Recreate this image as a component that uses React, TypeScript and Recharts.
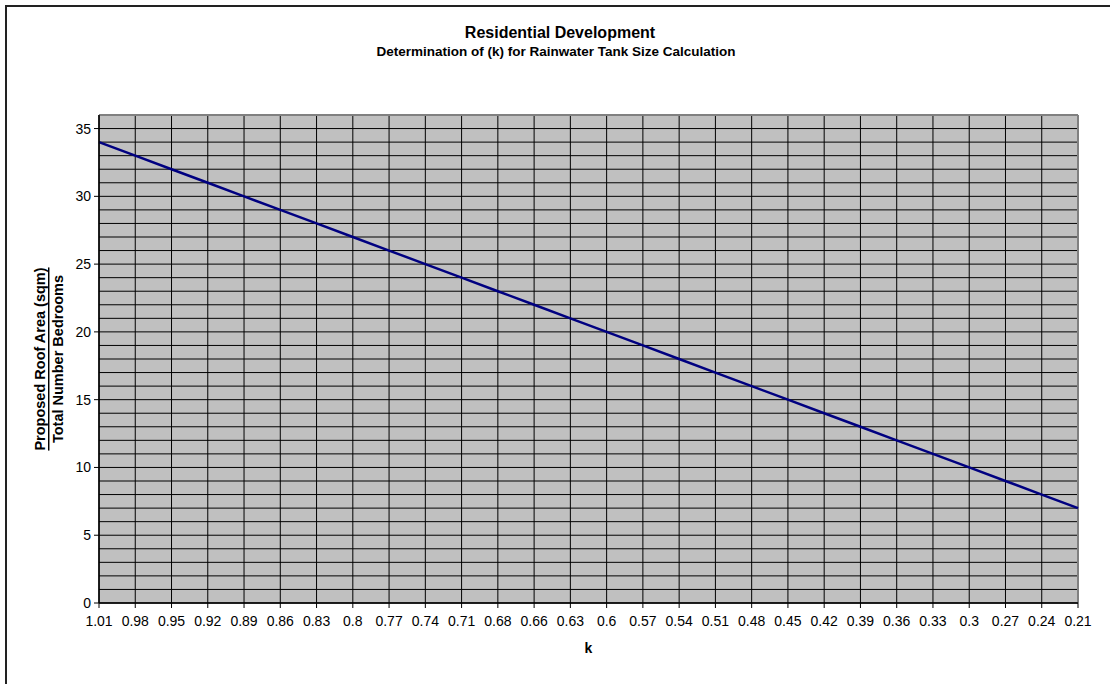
import React from "react";
import { LineChart, Line, XAxis, YAxis, CartesianGrid, ReferenceLine } from "recharts";

const kLabels = [
  "1.01", "0.98", "0.95", "0.92", "0.89", "0.86", "0.83", "0.8", "0.77", "0.74",
  "0.71", "0.68", "0.66", "0.63", "0.6", "0.57", "0.54", "0.51", "0.48", "0.45",
  "0.42", "0.39", "0.36", "0.33", "0.3", "0.27", "0.24", "0.21",
];
const ratioValues = [
  34, 33, 32, 31, 30, 29, 28, 27, 26, 25,
  24, 23, 22, 21, 20, 19, 18, 17, 16, 15,
  14, 13, 12, 11, 10, 9, 8, 7,
];
const yTicks = [0, 5, 10, 15, 20, 25, 30, 35];
const yGridValues = [
  0, 1, 2, 3, 4, 5, 6, 7, 8, 9, 10, 11, 12, 13, 14, 15, 16, 17, 18,
  19, 20, 21, 22, 23, 24, 25, 26, 27, 28, 29, 30, 31, 32, 33, 34, 35, 36,
];

const data = kLabels.map((k, i) => ({ k, ratio: ratioValues[i] }));

const FONT = '"Liberation Sans", Arial, sans-serif';

export default function App() {
  return (
    <div
      style={{
        position: "absolute",
        left: 0,
        top: 0,
        width: 1110,
        height: 684,
        overflow: "hidden",
        background: "#fff",
        fontFamily: FONT,
      }}
    >
      <div
        style={{
          position: "absolute",
          left: 5,
          top: 5,
          width: 1200,
          height: 800,
          borderLeft: "2px solid #222",
          borderTop: "2px solid #222",
          boxSizing: "border-box",
        }}
      />
      <div
        style={{
          position: "absolute",
          left: 0,
          width: 1120,
          top: 24,
          textAlign: "center",
          fontWeight: "bold",
          fontSize: 16,
          lineHeight: "18px",
          color: "#000",
        }}
      >
        Residential Development
      </div>
      <div
        style={{
          position: "absolute",
          left: 0,
          width: 1112,
          top: 44,
          textAlign: "center",
          fontWeight: "bold",
          fontSize: 13.5,
          lineHeight: "16px",
          color: "#000",
        }}
      >
        Determination of (k) for Rainwater Tank Size Calculation
      </div>
      <div style={{ position: "absolute", left: 0, top: 0 }}>
        <LineChart
          width={1110}
          height={684}
          data={data}
          margin={{ top: 115, right: 32, bottom: 51, left: 59 }}
        >
          <CartesianGrid
            fill="#C0C0C0"
            stroke="#000"
            strokeWidth={1}
            horizontalValues={yGridValues}
          />
          <XAxis
            dataKey="k"
            interval={0}
            height={30}
            tickSize={5}
            tickMargin={8}
            stroke="#000"
            fontSize={14}
            fontFamily={FONT}
            tick={{ fill: "#000", fontSize: 14, fontFamily: FONT }}
            axisLine={{ stroke: "#000", strokeWidth: 1.5 }}
            label={{
              value: "k",
              position: "bottom",
              offset: 10,
              fill: "#000",
              fontSize: 14,
              fontWeight: "bold",
              fontFamily: FONT,
            }}
          />
          <YAxis
            width={40}
            domain={[0, 36]}
            ticks={yTicks}
            interval={0}
            tickSize={5}
            tickMargin={3}
            stroke="#000"
            fontSize={14}
            fontFamily={FONT}
            tick={{ fill: "#000", fontSize: 14, fontFamily: FONT }}
            axisLine={{ stroke: "#000", strokeWidth: 1.5 }}
            label={{
              content: (props: any) => {
                const vb = props.viewBox || { x: 59, y: 115, width: 40, height: 488 };
                const cy = vb.y + vb.height / 2;
                return (
                  <g>
                    <text
                      x={40}
                      y={cy}
                      transform={`rotate(-90, 40, ${cy})`}
                      textAnchor="middle"
                      dominantBaseline="central"
                      fontSize={14.5}
                      fontWeight="bold"
                      fontFamily={FONT}
                      fill="#000"
                      textDecoration="underline"
                    >
                      Proposed Roof Area (sqm)
                    </text>
                    <text
                      x={58}
                      y={cy}
                      transform={`rotate(-90, 58, ${cy})`}
                      textAnchor="middle"
                      dominantBaseline="central"
                      fontSize={14.5}
                      fontWeight="bold"
                      fontFamily={FONT}
                      fill="#000"
                    >
                      Total Number Bedrooms
                    </text>
                  </g>
                );
              },
            }}
          />
          <ReferenceLine y={36} stroke="#808080" strokeWidth={2} />
          <ReferenceLine x="0.21" stroke="#808080" strokeWidth={2} />
          <Line
            type="linear"
            dataKey="ratio"
            stroke="#000080"
            strokeWidth={2.5}
            dot={false}
            isAnimationActive={false}
          />
        </LineChart>
      </div>
    </div>
  );
}
